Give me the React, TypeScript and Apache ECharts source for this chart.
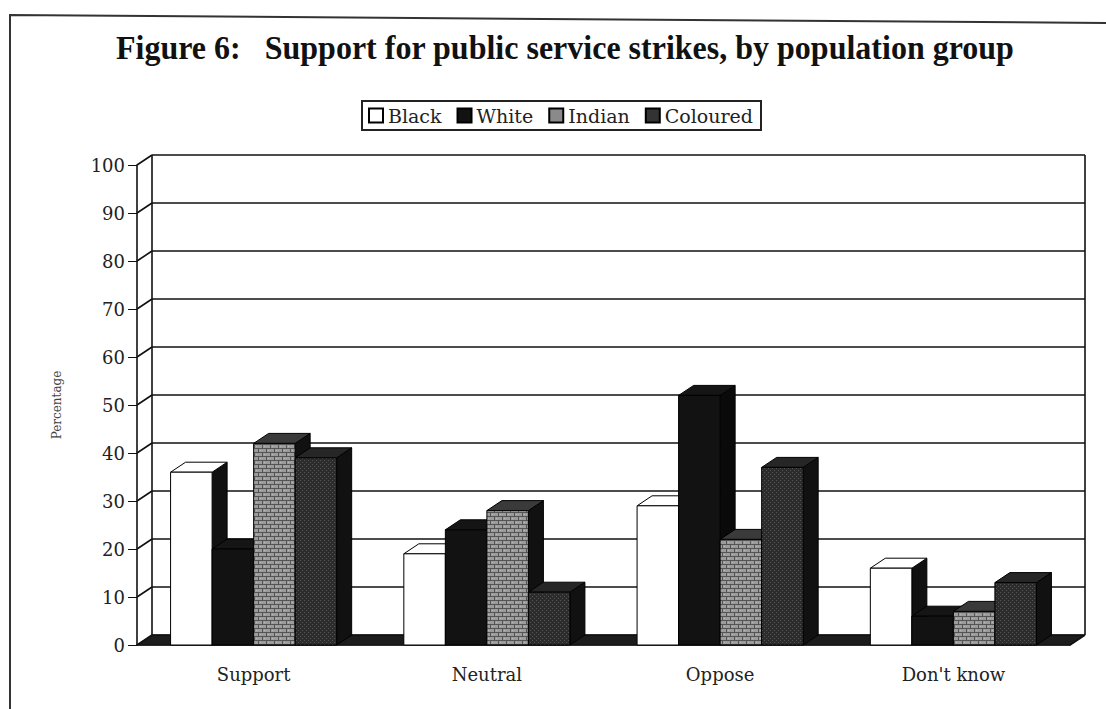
import React, { useEffect, useRef } from "react";
import * as echarts from "echarts";

// Survey results (percent) by response and population group
const categories = ["Support", "Neutral", "Oppose", "Don't know"];
const groupNames = ["Black", "White", "Indian", "Coloured"];
const blackValues = [36, 19, 29, 16];
const whiteValues = [20, 24, 52, 6];
const indianValues = [42, 28, 22, 7];
const colouredValues = [39, 11, 37, 13];
const yTicks = [0, 10, 20, 30, 40, 50, 60, 70, 80, 90, 100];

const TITLE = "Figure 6:\u00a0\u00a0\u00a0Support for public service strikes, by population group";

// depth offset of the pseudo-3D box
const DX = 15;
const DY = 10;
const BAR_FRAC = 0.178;

// small tiled textures for the hatched bars
function makeTile(kind: "hatch" | "dots"): HTMLCanvasElement {
  const c = document.createElement("canvas");
  c.width = 8;
  c.height = 8;
  const g = c.getContext("2d")!;
  if (kind === "hatch") {
    g.fillStyle = "#9c9c9c";
    g.fillRect(0, 0, 8, 8);
    g.fillStyle = "#555555";
    g.fillRect(0, 0, 8, 1);
    g.fillRect(0, 4, 8, 1);
    g.fillRect(2, 1, 1, 3);
    g.fillRect(6, 5, 1, 3);
    g.fillStyle = "#bdbdbd";
    g.fillRect(4, 2, 1, 1);
    g.fillRect(0, 6, 1, 1);
  } else {
    g.fillStyle = "#2c2c2c";
    g.fillRect(0, 0, 8, 8);
    g.fillStyle = "#555555";
    g.fillRect(0, 0, 1, 1);
    g.fillRect(4, 0, 1, 1);
    g.fillRect(2, 2, 1, 1);
    g.fillRect(6, 2, 1, 1);
    g.fillRect(0, 4, 1, 1);
    g.fillRect(4, 4, 1, 1);
    g.fillRect(2, 6, 1, 1);
    g.fillRect(6, 6, 1, 1);
  }
  return c;
}

type Faces = { front: any; side: string; top: string; legend: string };

function buildFaces(): Faces[] {
  const hatch = makeTile("hatch");
  const dots = makeTile("dots");
  return [
    { front: "#ffffff", side: "#111111", top: "#ffffff", legend: "#ffffff" },
    { front: "#121212", side: "#0a0a0a", top: "#151515", legend: "#121212" },
    {
      front: { image: hatch, repeat: "repeat", imageWidth: 8, imageHeight: 8 },
      side: "#111111",
      top: "#3a3a3a",
      legend: "#8a8a8a",
    },
    {
      front: { image: dots, repeat: "repeat", imageWidth: 8, imageHeight: 8 },
      side: "#111111",
      top: "#262626",
      legend: "#333333",
    },
  ];
}

function makeBarRenderer(idx: number, f: Faces) {
  return (params: any, api: any) => {
    const cat = api.value(0);
    const v = api.value(1);
    const base = api.coord([cat, 0]);
    const top = api.coord([cat, v]);
    const band = api.size([1, 0])[0];
    const w = band * BAR_FRAC;
    const x0 = base[0] - 2 * w + idx * w;
    const x1 = x0 + w;
    const yb = base[1];
    const yt = top[1];
    const stroke = { stroke: "#000", lineWidth: 1 };
    return {
      type: "group",
      children: [
        {
          type: "polygon",
          shape: { points: [[x1, yb], [x1 + DX, yb - DY], [x1 + DX, yt - DY], [x1, yt]] },
          style: { fill: f.side, ...stroke },
        },
        {
          type: "polygon",
          shape: { points: [[x0, yt], [x1, yt], [x1 + DX, yt - DY], [x0 + DX, yt - DY]] },
          style: { fill: f.top, ...stroke },
        },
        {
          type: "polygon",
          shape: { points: [[x0, yb], [x1, yb], [x1, yt], [x0, yt]] },
          style: { fill: f.front, ...stroke },
        },
      ],
    };
  };
}

// back wall, side wall and floor of the box, one item per tick value
function renderWall(params: any, api: any) {
  const v = api.value(1);
  const cs = params.coordSys;
  const left = cs.x;
  const right = cs.x + cs.width;
  const y = api.coord([0, v])[1];
  const line = { stroke: "#111", lineWidth: 1.6 };
  const children: any[] = [
    { type: "line", shape: { x1: left + DX, y1: y - DY, x2: right + DX, y2: y - DY }, style: line },
    { type: "line", shape: { x1: left, y1: y, x2: left + DX, y2: y - DY }, style: line },
  ];
  if (v === 0) {
    children.unshift({
      type: "polygon",
      shape: { points: [[left, y], [right, y], [right + DX, y - DY], [left + DX, y - DY]] },
      style: { fill: "#1c1c1c", stroke: "#111", lineWidth: 1 },
    });
  }
  if (v === yTicks[yTicks.length - 1]) {
    const y0 = api.coord([0, 0])[1];
    children.push(
      { type: "line", shape: { x1: left + DX, y1: y - DY, x2: left + DX, y2: y0 - DY }, style: line },
      { type: "line", shape: { x1: right + DX, y1: y - DY, x2: right + DX, y2: y0 - DY }, style: line },
      { type: "line", shape: { x1: right, y1: y0, x2: right + DX, y2: y0 - DY }, style: line }
    );
  }
  return { type: "group", children };
}

export default function App() {
  const ref = useRef<HTMLDivElement>(null);

  useEffect(() => {
    document.body.style.margin = "0";
    if (!ref.current) return;
    const chart = echarts.init(ref.current, undefined, { renderer: "svg" });
    const serif = "DejaVu Serif";
    const faces = buildFaces();
    const seriesValues = [blackValues, whiteValues, indianValues, colouredValues];

    const barSeries = groupNames.map((name, i) => ({
      name,
      type: "custom",
      z: 3,
      clip: false,
      renderItem: makeBarRenderer(i, faces[i]),
      itemStyle: { color: faces[i].legend, borderColor: "#000", borderWidth: 1 },
      encode: { x: 0, y: 1 },
      data: seriesValues[i].map((v, c) => [c, v]),
    }));

    chart.setOption({
      animation: false,
      backgroundColor: "#ffffff",
      graphic: [
        {
          type: "polyline",
          shape: { points: [[10, 709], [10, 15], [1106, 23]] },
          style: { stroke: "#333", lineWidth: 2, fill: "none" },
        },
        {
          type: "text",
          x: 116,
          y: 48,
          scaleX: 0.97,
          style: {
            text: TITLE,
            fontFamily: "Liberation Serif",
            fontWeight: "bold",
            fontSize: 33,
            fill: "#111",
            verticalAlign: "middle",
          },
        },
      ],
      legend: {
        data: groupNames,
        left: 362,
        top: 101,
        icon: "rect",
        itemWidth: 14,
        itemHeight: 14,
        itemGap: 15,
        padding: [5, 8, 5, 6],
        borderColor: "#222",
        borderWidth: 2,
        textStyle: { fontFamily: serif, fontSize: 19, color: "#222" },
      },
      grid: { left: 137, right: 36, top: 165, bottom: 64 },
      xAxis: {
        type: "category",
        data: categories,
        axisLine: { lineStyle: { color: "#111", width: 1.6 } },
        axisTick: { length: 7, lineStyle: { color: "#111" } },
        axisLabel: { margin: 20, fontFamily: serif, fontSize: 18, color: "#222" },
      },
      yAxis: {
        type: "value",
        min: 0,
        max: 100,
        interval: 10,
        name: "Percentage",
        nameLocation: "middle",
        nameRotate: 90,
        nameGap: 74,
        nameTextStyle: { fontFamily: serif, fontSize: 12, color: "#444" },
        axisLine: { show: true, lineStyle: { color: "#111", width: 1.6 } },
        axisTick: { show: true, length: 9, lineStyle: { color: "#111" } },
        axisLabel: { margin: 12, fontFamily: serif, fontSize: 18, color: "#222" },
        splitLine: { show: false },
      },
      series: [
        {
          type: "custom",
          name: "wall",
          z: 1,
          clip: false,
          silent: true,
          renderItem: renderWall,
          encode: { x: 0, y: 1 },
          data: yTicks.map((t) => [0, t]),
        },
        ...barSeries,
      ],
    });
    return () => chart.dispose();
  }, []);

  return <div ref={ref} style={{ width: 1106, height: 709 }} />;
}
